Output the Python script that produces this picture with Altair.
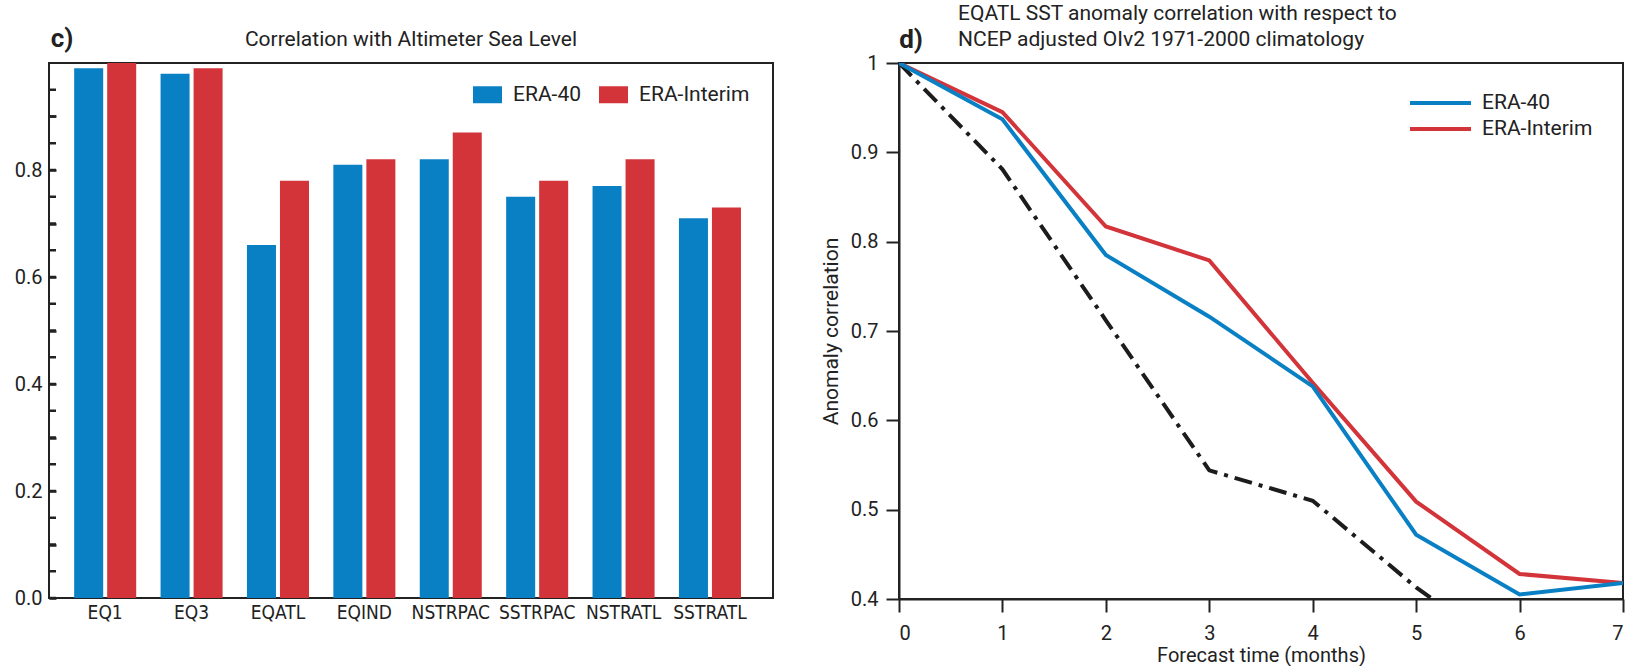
import altair as alt
import pandas as pd

# ---------------- data ----------------
regions = ["EQ1", "EQ3", "EQATL", "EQIND", "NSTRPAC", "SSTRPAC", "NSTRATL", "SSTRATL"]
series_names = ["ERA-40", "ERA-Interim"]
era40_corr = [0.99, 0.98, 0.66, 0.81, 0.82, 0.75, 0.77, 0.71]
interim_corr = [1.00, 0.99, 0.78, 0.82, 0.87, 0.78, 0.82, 0.73]
bar_label_ticks = [0.0, 0.2, 0.4, 0.6, 0.8]
bar_all_ticks = [0.0, 0.05, 0.10, 0.15, 0.20, 0.25, 0.30, 0.35, 0.40, 0.45, 0.50,
                 0.55, 0.60, 0.65, 0.70, 0.75, 0.80, 0.85, 0.90, 0.95]

months = [0, 1, 2, 3, 4, 5, 6, 7]
era40_acc = [1.0, 0.937, 0.785, 0.716, 0.638, 0.472, 0.405, 0.418]
interim_acc = [1.0, 0.945, 0.817, 0.779, 0.642, 0.509, 0.428, 0.418]
persist_months = [0, 1, 2, 3, 4, 5, 6]
persist_acc = [1.0, 0.881, 0.712, 0.544, 0.510, 0.413, 0.33]
line_y_ticks = [0.4, 0.5, 0.6, 0.7, 0.8, 0.9, 1.0]

panel_labels = ["c)", "d)"]
left_title = "Correlation with Altimeter Sea Level"
right_title = ["EQATL SST anomaly correlation with respect to",
               "NCEP adjusted OIv2 1971-2000 climatology"]
x_title_right = "Forecast time (months)"
y_title_right = "Anomaly correlation"

BLUE = "#0a80c4"
RED = "#d2343a"
INK = "#222222"
FONT = "Roboto"
NARROW = "Liberation Sans Narrow, DejaVu Sans Condensed, Roboto"

color_scale = alt.Scale(domain=series_names, range=[BLUE, RED])

W, H_L, H_R = 724, 535, 536

# ---------------- left panel (bars) ----------------
bar_df = pd.DataFrame({
    "region": regions * 2,
    "series": [series_names[0]] * len(regions) + [series_names[1]] * len(regions),
    "value": era40_corr + interim_corr,
})

label_list = "[" + ",".join(str(v) for v in bar_label_ticks) + "]"

bars = alt.Chart(bar_df).mark_bar().encode(
    x=alt.X("region:N", sort=regions,
            scale=alt.Scale(paddingInner=0.282, paddingOuter=0.331, align=0.44),
            axis=alt.Axis(title=None, labelAngle=0, ticks=False, domain=False,
                          labelFont=NARROW, labelFontSize=19, labelColor=INK,
                          labelPadding=5)),
    xOffset=alt.XOffset("series:N", sort=series_names,
                        scale=alt.Scale(paddingInner=0.121)),
    y=alt.Y("value:Q", scale=alt.Scale(domain=[0, 1], nice=False),
            axis=alt.Axis(title=None, values=bar_all_ticks,
                          labelExpr="indexof(" + label_list + ", round(datum.value*100)/100) >= 0 ? format(datum.value, '.1f') : ''",
                          labelOverlap=False, offset=-7, ticks=True, tickSize=7,
                          tickWidth=2.5, tickColor=INK, tickOpacity=1,
                          domain=False, grid=False, zindex=1,
                          labelFontSize=20, labelPadding=7)),
    color=alt.Color("series:N", scale=color_scale, sort=series_names,
                    legend=alt.Legend(title=None, orient="none", legendX=424, legendY=17,
                                      direction="horizontal",
                                      symbolType="M-1,-0.586H1V0.586H-1Z",
                                      symbolSize=841, symbolStrokeWidth=0,
                                      symbolOpacity=1,
                                      labelFont=FONT, labelFontSize=21, labelColor=INK,
                                      labelOffset=11, columnPadding=18, padding=0)),
)

tick_df = pd.DataFrame({"v": bar_all_ticks})
inner_ticks = alt.Chart(tick_df).mark_rule(color=INK, strokeWidth=2.5, opacity=1).encode(
    y=alt.Y("v:Q"), x=alt.value(0), x2=alt.value(7)
)

c_label = alt.Chart(pd.DataFrame({"t": [panel_labels[0]]})).mark_text(
    font=FONT, fontSize=26, fontWeight="bold", color=INK, align="center", baseline="middle"
).encode(text="t:N", x=alt.value(13), y=alt.value(-24))

c_title = alt.Chart(pd.DataFrame({"t": [left_title]})).mark_text(
    font=FONT, fontSize=21, color=INK, align="center", baseline="middle"
).encode(text="t:N", x=alt.value(W / 2), y=alt.value(-23))

left = alt.layer(bars, inner_ticks, c_label, c_title).properties(width=W, height=H_L)

# ---------------- right panel (lines) ----------------
line_df = pd.DataFrame({
    "month": months * 2,
    "series": [series_names[1]] * len(months) + [series_names[0]] * len(months),
    "value": interim_acc + era40_acc,
})
persist_df = pd.DataFrame({"month": persist_months, "value": persist_acc})

x_enc = alt.X("month:Q", scale=alt.Scale(domain=[0, 7], nice=False),
              axis=alt.Axis(values=months, format="d", title=x_title_right,
                            tickSize=13, tickWidth=2, labelFontSize=20, labelPadding=11,
                            titleFontSize=20, titlePadding=2, grid=False,
                            domain=True, domainWidth=2))
y_enc = alt.Y("value:Q", scale=alt.Scale(domain=[0.4, 1.0], nice=False),
              axis=alt.Axis(values=line_y_ticks,
                            labelExpr="datum.value >= 0.999 ? '1' : format(datum.value, '.1f')",
                            title=y_title_right, tickSize=13, tickWidth=2,
                            labelFontSize=20, labelPadding=8, titleFontSize=21,
                            titlePadding=9, grid=False, domain=True, domainWidth=2))

persist = alt.Chart(persist_df).mark_line(
    strokeWidth=4, color="#1c1c1c", strokeDash=[18, 7, 4, 7], clip=True
).encode(x=x_enc, y=y_enc)

lines = alt.Chart(line_df).mark_line(strokeWidth=4, clip=True).encode(
    x="month:Q", y="value:Q",
    color=alt.Color("series:N", scale=color_scale, legend=None),
    detail="series:N",
)

leg_layers = []
for i, s in enumerate(series_names):
    d = pd.DataFrame({"series": [s]})
    leg_layers.append(alt.Chart(d).mark_rule(strokeWidth=4).encode(
        x=alt.value(511), x2=alt.value(572), y=alt.value(40 + 26 * i),
        color=alt.Color("series:N", scale=color_scale, legend=None)))
    leg_layers.append(alt.Chart(d).mark_text(
        font=FONT, fontSize=21, color=INK, align="left", baseline="middle"
    ).encode(text="series:N", x=alt.value(583), y=alt.value(40 + 26 * i)))

d_label = alt.Chart(pd.DataFrame({"t": [panel_labels[1]]})).mark_text(
    font=FONT, fontSize=26, fontWeight="bold", color=INK, align="center", baseline="middle"
).encode(text="t:N", x=alt.value(12), y=alt.value(-23))

d_title1 = alt.Chart(pd.DataFrame({"t": [right_title[0]]})).mark_text(
    font=FONT, fontSize=21, color=INK, align="left", baseline="middle"
).encode(text="t:N", x=alt.value(59), y=alt.value(-49))
d_title2 = alt.Chart(pd.DataFrame({"t": [right_title[1]]})).mark_text(
    font=FONT, fontSize=21, color=INK, align="left", baseline="middle"
).encode(text="t:N", x=alt.value(59), y=alt.value(-23))

right = alt.layer(persist, lines, *leg_layers, d_label, d_title1, d_title2).properties(
    width=W, height=H_R)

chart = alt.hconcat(left, right, spacing=126, bounds="flush").configure_view(
    stroke=INK, strokeWidth=2
).configure_axis(
    labelFont=FONT, titleFont=FONT, labelColor=INK, titleColor=INK,
    tickColor=INK, domainColor=INK, titleFontWeight="normal"
).properties(
    padding={"left": 13, "top": 2, "right": 2, "bottom": 0},
    background="white"
)

chart.save("out.html", embed_options={"renderer": "svg", "actions": False})
